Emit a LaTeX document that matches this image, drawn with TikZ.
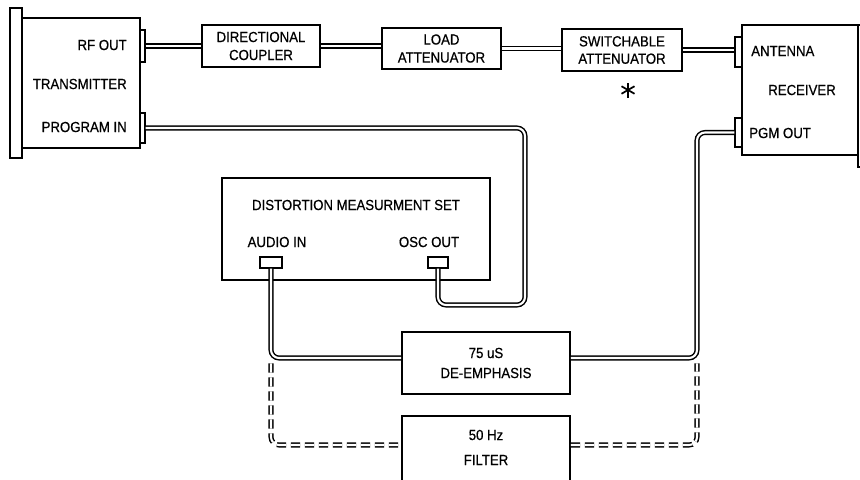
\documentclass[tikz,border=0pt]{standalone}
\usepackage{fontspec}
\setmainfont{Liberation Sans}[FakeStretch=0.9,FakeBold=0.6]
\usepackage{tikz}
\newcommand\lettering{\fontsize{11}{13}\selectfont}

\begin{document}
\begin{tikzpicture}[
  x=0.75pt,y=-0.75pt,
  box/.style={draw,line width=1.3pt,inner sep=0pt,align=center,font=\lettering},
  tab/.style={draw,line width=1.1pt,fill=white,inner sep=0pt},
  lab/.style={inner sep=0pt,font=\lettering},
  cable/.style={double,double distance=1.6pt,line width=1.1pt,rounded corners=6pt},
  dcable/.style={cable,dash pattern=on 7pt off 3.5pt}
]
\useasboundingbox (0,0) rectangle (860,479);
\fill[white] (0,0) rectangle (860,479);
\clip (0,0) rectangle (860,479);

% transmitter
\node[box,minimum width=9pt,minimum height=112.5pt] (txpanel) at (16,83) {};
\node[box,minimum width=88.5pt,minimum height=97.5pt] (tx) at (81,83) {};
\node[tab,minimum width=3.75pt,minimum height=24pt] (rfout) at (142.5,46) {};
\node[tab,minimum width=3.75pt,minimum height=22.5pt] (progin) at (142.5,128) {};
\node[lab,anchor=east] (rflab) at (127,45) {RF OUT};
\node[lab,anchor=east] (txlab) at (127,84) {TRANSMITTER};
\node[lab,anchor=east] (pilab) at (127,127) {PROGRAM IN};

% rf chain
\node[box,minimum width=88.5pt,minimum height=31.5pt] (coupler) at (261,46) {DIRECTIONAL\\[0.5pt]COUPLER};
\node[box,minimum width=89.25pt,minimum height=30.75pt] (load) at (441.5,48.5) {LOAD\\[0.5pt]ATTENUATOR};
\node[box,minimum width=90pt,minimum height=31.5pt] (switch) at (622,50) {SWITCHABLE\\[0pt]ATTENUATOR};
\coordinate (star) at (628,90);
\foreach \a in {90,30,150}
  \draw[line width=1.3pt] (star) ++(\a:7.5) -- ++(\a+180:15);

% receiver
\node[box,minimum width=10.5pt,minimum height=106.5pt] (rxpanel) at (865,96) {};
\node[box,minimum width=87pt,minimum height=97.5pt] (rx) at (800,90) {};
\node[tab,minimum width=5.25pt,minimum height=22.5pt] (ant) at (738.5,52) {};
\node[tab,minimum width=5.25pt,minimum height=21.75pt] (pgm) at (738.5,132.5) {};
\node[lab,anchor=west] (antlab) at (751,51) {ANTENNA};
\node[lab,anchor=west] (rxlab) at (768,90) {RECEIVER};
\node[lab,anchor=west] (pgmlab) at (749,133) {PGM OUT};

% distortion set
\node[box,minimum width=201pt,minimum height=76.5pt] (dms) at (356,229) {};
\node[lab] (dmslab) at (356,205) {DISTORTION MEASURMENT SET};
\node[lab] (audiolab) at (277,242) {AUDIO IN};
\node[lab] (osclab) at (429,242) {OSC OUT};
\node[tab,minimum width=16.5pt,minimum height=8.25pt] (audio) at (271,262.5) {};
\node[tab,minimum width=15pt,minimum height=8.25pt] (osc) at (438,262.5) {};

% audio filters
\node[box,minimum width=126pt,minimum height=46.5pt] (deemph) at (486,363) {75 uS\\[2pt]DE-EMPHASIS};
\node[box,minimum width=126pt,minimum height=63pt] (filter) at (486,458) {};
\node[lab] (hzlab) at (486,435) {50 Hz};
\node[lab] (filterlab) at (486,460) {FILTER};

\coordinate (obend) at (525,305);
\coordinate (ljoin) at (271,358);
\coordinate (rjoin) at (697,358);

% cables
\draw[cable] (rfout.east) -- (rfout.east -| coupler.west);
\draw[cable] (coupler.east) -- (coupler.east -| load.west);
\draw[cable] (load.east) -- (load.east -| switch.west);
\draw[cable] (switch.east) -- (switch.east -| ant.west);
\draw[cable] (progin.east) -| (obend) -| (osc.south);
\draw[cable] (audio.south) |- (ljoin -| deemph.west);
\draw[cable] (ljoin -| deemph.east) -| (pgm.west -| rjoin) -- (pgm.west);
\draw[dcable] ([yshift=-4pt]ljoin) |- ([yshift=9.75pt]filter.west);
\draw[dcable] ([yshift=9.75pt]filter.east) -| ([yshift=-4pt]rjoin);
\end{tikzpicture}
\end{document}
